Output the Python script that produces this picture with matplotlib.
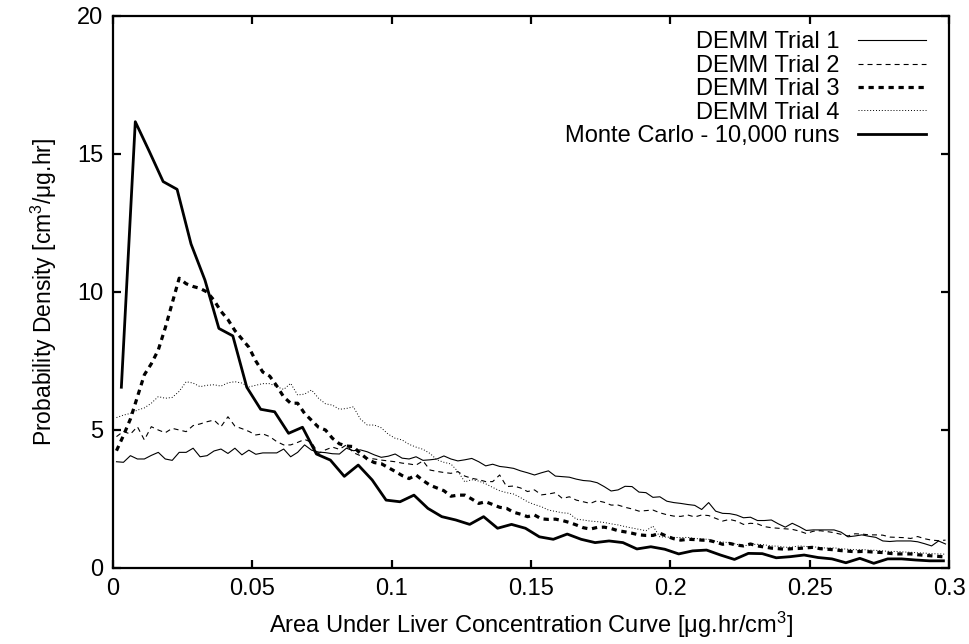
import numpy as np
import matplotlib
matplotlib.use("Agg")
import matplotlib.pyplot as plt

plt.rcParams['font.family'] = ['Liberation Sans', 'DejaVu Sans']
plt.rcParams['mathtext.fontset'] = 'custom'
plt.rcParams['mathtext.rm'] = 'Liberation Sans'
plt.rcParams['mathtext.it'] = 'Liberation Sans'
plt.rcParams['lines.scale_dashes'] = False

# ---- data ----
demm_step = 0.0025
demm_x = np.arange(120) * demm_step + demm_step / 2
mc_x = np.arange(60) * 0.005 + 0.003

trial1 = [3.85, 3.83, 4.07, 3.95, 3.95, 4.08, 4.19, 3.95, 3.90, 4.19,
          4.19, 4.34, 4.03, 4.07, 4.24, 4.31, 4.15, 4.34, 4.10, 4.27,
          4.12, 4.17, 4.17, 4.17, 4.31, 4.03, 4.19, 4.46, 4.27, 4.20,
          4.18, 4.14, 4.13, 4.34, 4.25, 4.28, 4.21, 4.10, 4.01, 4.05,
          4.13, 3.98, 3.95, 4.03, 3.90, 3.92, 3.95, 4.06, 3.95, 3.88,
          3.92, 3.97, 3.85, 3.70, 3.76, 3.68, 3.65, 3.61, 3.52, 3.45,
          3.37, 3.45, 3.52, 3.33, 3.31, 3.29, 3.22, 3.17, 3.15, 3.09,
          2.95, 2.79, 2.83, 2.96, 2.95, 2.75, 2.73, 2.56, 2.58, 2.42,
          2.37, 2.34, 2.30, 2.27, 2.12, 2.37, 2.06, 1.98, 1.97, 1.92,
          1.82, 1.84, 1.72, 1.72, 1.74, 1.60, 1.48, 1.62, 1.50, 1.36,
          1.38, 1.38, 1.38, 1.38, 1.30, 1.13, 1.16, 1.20, 1.15, 1.11,
          0.98, 0.96, 0.98, 0.98, 0.98, 0.95, 0.88, 0.80, 0.98, 0.87]

trial2 = [4.76, 4.95, 4.85, 5.12, 4.64, 5.12, 5.00, 4.90, 5.06, 5.00,
          4.94, 5.16, 5.22, 5.30, 5.36, 5.12, 5.48, 5.14, 5.05, 4.95,
          4.82, 4.86, 4.76, 4.58, 4.46, 4.46, 4.55, 4.66, 4.55, 4.15,
          4.28, 4.38, 4.30, 4.46, 4.18, 4.07, 3.98, 3.95, 3.91, 3.88,
          3.85, 3.80, 3.77, 3.73, 3.88, 3.55, 3.50, 3.46, 3.43, 3.49,
          3.33, 3.25, 3.20, 3.13, 3.13, 3.37, 2.95, 2.97, 2.90, 2.77,
          2.83, 2.65, 2.68, 2.73, 2.52, 2.58, 2.46, 2.40, 2.34, 2.44,
          2.38, 2.28, 2.28, 2.20, 2.14, 2.06, 2.08, 2.10, 2.00, 1.93,
          1.88, 1.87, 1.92, 1.85, 1.92, 1.90, 1.80, 1.70, 1.76, 1.70,
          1.58, 1.62, 1.60, 1.50, 1.46, 1.44, 1.42, 1.40, 1.34, 1.25,
          1.33, 1.35, 1.32, 1.28, 1.22, 1.16, 1.24, 1.23, 1.20, 1.20,
          1.19, 1.12, 1.11, 1.10, 1.07, 1.14, 1.06, 1.01, 0.99, 1.01]

trial3 = [4.25, 4.80, 5.40, 6.20, 7.00, 7.40, 7.90, 8.70, 9.60, 10.50,
          10.30, 10.20, 10.13, 10.00, 9.70, 9.30, 9.00, 8.60, 8.30, 8.00,
          7.50, 7.10, 6.95, 6.60, 6.20, 5.97, 5.97, 5.60, 5.35, 5.10,
          5.00, 4.70, 4.50, 4.42, 4.40, 4.15, 3.95, 3.82, 3.78, 3.64,
          3.50, 3.35, 3.24, 3.37, 3.17, 3.00, 2.90, 2.80, 2.60, 2.64,
          2.64, 2.50, 2.34, 2.40, 2.30, 2.20, 2.16, 2.02, 1.95, 1.86,
          1.92, 1.78, 1.76, 1.77, 1.72, 1.65, 1.56, 1.46, 1.41, 1.47,
          1.48, 1.43, 1.35, 1.31, 1.26, 1.20, 1.18, 1.18, 1.26, 1.15,
          1.06, 1.01, 1.04, 1.03, 1.01, 1.00, 0.94, 0.86, 0.89, 0.83,
          0.80, 0.87, 0.80, 0.76, 0.72, 0.70, 0.68, 0.70, 0.71, 0.73,
          0.75, 0.70, 0.68, 0.66, 0.63, 0.61, 0.59, 0.60, 0.59, 0.57,
          0.56, 0.53, 0.51, 0.51, 0.51, 0.48, 0.46, 0.44, 0.42, 0.40]

trial4 = [5.45, 5.54, 5.60, 5.72, 5.80, 5.97, 6.21, 6.15, 6.18, 6.40,
          6.75, 6.70, 6.57, 6.62, 6.64, 6.59, 6.71, 6.75, 6.70, 6.56,
          6.62, 6.68, 6.68, 6.57, 6.47, 6.69, 6.27, 6.30, 6.45, 6.15,
          5.95, 5.90, 5.75, 5.78, 5.84, 5.40, 5.18, 5.18, 5.08, 4.85,
          4.70, 4.64, 4.48, 4.38, 4.30, 4.15, 3.92, 3.83, 3.77, 3.50,
          3.12, 3.20, 3.15, 3.05, 2.92, 2.80, 2.73, 2.68, 2.55, 2.40,
          2.30, 2.22, 2.10, 2.05, 2.00, 1.98, 1.77, 1.74, 1.70, 1.68,
          1.65, 1.60, 1.56, 1.50, 1.45, 1.40, 1.35, 1.52, 1.13, 1.12,
          1.11, 1.10, 1.11, 1.07, 1.05, 1.04, 0.96, 0.94, 0.92, 0.86,
          0.80, 0.85, 0.86, 0.84, 0.80, 0.79, 0.75, 0.76, 0.80, 0.78,
          0.77, 0.74, 0.72, 0.73, 0.70, 0.68, 0.66, 0.67, 0.65, 0.64,
          0.62, 0.60, 0.60, 0.58, 0.57, 0.55, 0.54, 0.52, 0.51, 0.50]

monte_carlo = [6.55, 16.17, 15.10, 14.00, 13.72, 11.74, 10.43, 8.68, 8.41, 6.55,
               5.75, 5.66, 4.88, 5.10, 4.13, 3.91, 3.32, 3.73, 3.19, 2.46,
               2.40, 2.64, 2.16, 1.86, 1.74, 1.58, 1.86, 1.44, 1.58, 1.44,
               1.13, 1.04, 1.23, 1.04, 0.92, 0.98, 0.92, 0.69, 0.77, 0.68,
               0.51, 0.62, 0.65, 0.47, 0.31, 0.53, 0.52, 0.37, 0.41, 0.47,
               0.38, 0.33, 0.19, 0.35, 0.17, 0.33, 0.33, 0.29, 0.26, 0.26]

labels = ["DEMM Trial 1", "DEMM Trial 2", "DEMM Trial 3", "DEMM Trial 4",
          "Monte Carlo - 10,000 runs"]
x_ticks = [0, 0.05, 0.1, 0.15, 0.2, 0.25, 0.3]
x_tick_labels = ["0", "0.05", "0.1", "0.15", "0.2", "0.25", "0.3"]
y_ticks = [0, 5, 10, 15, 20]

# ---- figure ----
fig = plt.figure(figsize=(9.69, 6.44), dpi=100)
ax = fig.add_axes([113/969, 1 - 568/644, (949-113)/969, (568-16)/644])

ax.plot(demm_x, trial1, color='black', lw=0.8, ls='-', label=labels[0])
ax.plot(demm_x, trial2, color='black', lw=0.8, ls=(0, (3.6, 2.9)), label=labels[1])
ax.plot(demm_x, trial3, color='black', lw=2.3, ls=(0, (3.8, 3.4)), label=labels[2])
ax.plot(demm_x, trial4, color='black', lw=0.7, ls=(0, (0.7, 1.4)), label=labels[3])
ax.plot(mc_x, monte_carlo, color='black', lw=2.0, ls='-', label=labels[4])

ax.set_xlim(0, 0.3)
ax.set_ylim(0, 20)
ax.set_xticks(x_ticks)
ax.set_xticklabels(x_tick_labels)
ax.set_yticks(y_ticks)

for s in ax.spines.values():
    s.set_linewidth(1.6)
ax.tick_params(direction='in', length=6, width=1.6, top=True, right=True,
               labelsize=17, pad=7)

ax.set_xlabel(r'Area Under Liver Concentration Curve [μg.hr/cm$^{3}$]', fontsize=17, labelpad=7)
ax.set_ylabel(r'Probability Density [cm$^{3}$/μg.hr]', fontsize=16.5, labelpad=13)

leg = ax.legend(loc='upper right', bbox_to_anchor=(0.9725, 0.972), frameon=False,
                fontsize=17, markerfirst=False,
                handlelength=2.9, handletextpad=0.75, labelspacing=0.06,
                borderaxespad=0.0, borderpad=0.0)
try:
    for col in leg._legend_box._children[-1]._children:
        col.align = 'right'
except Exception:
    pass

fig.savefig('out.png', dpi=100)
